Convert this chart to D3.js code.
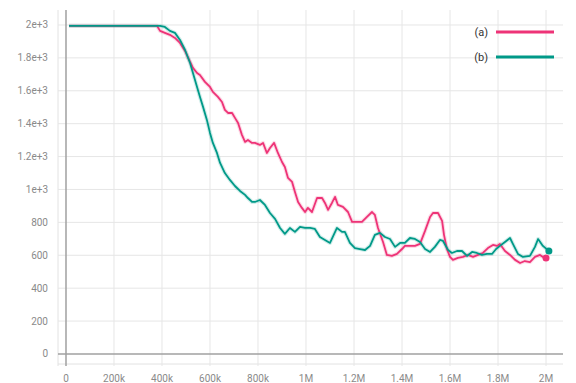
<!DOCTYPE html>
<html>
<head>
<meta charset="utf-8">
<script src="https://cdn.jsdelivr.net/npm/d3@7"></script>
<style>
  html, body { margin: 0; padding: 0; background: #fff; }
  svg { display: block; font-family: Roboto, "Noto Sans", sans-serif; }
</style>
</head>
<body>
<svg id="chart" width="576" height="383"></svg>
<script>
// Training steps (thousands) and metric values for run (a)
const stepsA = [12.5, 379, 392, 412, 433, 454, 475, 496, 517, 529, 546, 558, 579, 600, 612, 633, 650, 662, 675, 692, 704, 717, 733, 746, 758, 775, 787, 808, 821, 837, 850, 867, 883, 900, 912, 925, 942, 954, 967, 983, 996, 1008, 1025, 1046, 1067, 1079, 1092, 1108, 1121, 1133, 1154, 1175, 1192, 1212, 1233, 1254, 1275, 1287, 1300, 1321, 1337, 1358, 1379, 1400, 1412, 1433, 1454, 1475, 1496, 1517, 1529, 1550, 1567, 1575, 1587, 1600, 1612, 1633, 1654, 1675, 1696, 1717, 1737, 1758, 1779, 1796, 1808, 1829, 1850, 1871, 1892, 1912, 1933, 1954, 1975, 1987, 2000];
const valuesA = [1995, 1995, 1964, 1952, 1940, 1921, 1891, 1842, 1775, 1739, 1708, 1696, 1654, 1623, 1593, 1563, 1532, 1484, 1465, 1465, 1435, 1404, 1332, 1289, 1301, 1283, 1283, 1271, 1283, 1222, 1252, 1283, 1222, 1167, 1137, 1070, 1046, 985, 924, 888, 863, 888, 863, 948, 948, 918, 876, 918, 955, 906, 894, 863, 803, 803, 803, 833, 863, 845, 766, 681, 602, 596, 608, 638, 657, 657, 657, 669, 748, 833, 857, 857, 809, 724, 638, 590, 572, 584, 590, 602, 590, 602, 614, 644, 663, 657, 669, 626, 602, 572, 553, 565, 559, 590, 602, 590, 584];

// Training steps (thousands) and metric values for run (b)
const stepsB = [12.5, 392, 412, 433, 454, 475, 496, 517, 529, 546, 558, 571, 587, 600, 612, 629, 642, 662, 683, 704, 725, 746, 758, 775, 787, 808, 829, 850, 871, 892, 912, 933, 954, 975, 996, 1017, 1037, 1058, 1079, 1100, 1129, 1150, 1162, 1183, 1204, 1225, 1246, 1267, 1287, 1308, 1329, 1350, 1371, 1392, 1412, 1433, 1454, 1475, 1496, 1517, 1537, 1558, 1571, 1592, 1608, 1629, 1650, 1671, 1692, 1712, 1733, 1754, 1775, 1792, 1808, 1829, 1850, 1862, 1883, 1904, 1933, 1954, 1967, 1987, 2012];
const valuesB = [1995, 1995, 1988, 1964, 1952, 1909, 1848, 1769, 1708, 1623, 1563, 1502, 1423, 1344, 1283, 1222, 1161, 1100, 1058, 1021, 991, 967, 948, 924, 924, 936, 906, 857, 821, 766, 730, 766, 742, 772, 766, 766, 760, 711, 693, 675, 766, 742, 742, 675, 644, 638, 632, 657, 724, 736, 711, 699, 651, 675, 675, 705, 699, 681, 638, 620, 651, 693, 687, 632, 614, 626, 626, 596, 620, 614, 602, 608, 608, 638, 657, 681, 705, 669, 608, 590, 596, 651, 699, 657, 626];

// Axis ticks
const xTicks = [0, 200, 400, 600, 800, 1000, 1200, 1400, 1600, 1800, 2000];
const xTickLabels = ["0", "200k", "400k", "600k", "800k", "1M", "1.2M", "1.4M", "1.6M", "1.8M", "2M"];
const yTicks = [0, 200, 400, 600, 800, 1000, 1200, 1400, 1600, 1800, 2000];
const yTickLabels = ["0", "200", "400", "600", "800", "1e+3", "1.2e+3", "1.4e+3", "1.6e+3", "1.8e+3", "2e+3"];

const runNames = ["(a)", "(b)"];
const runColors = ["#ee3377", "#009988"];

const svg = d3.select("#chart");
const plotLeft = 58, plotRight = 563, plotTop = 10, plotBottom = 364;

const x = d3.scaleLinear().domain([-33.3, 2070.8]).range([plotLeft, plotRight]);
const y = d3.scaleLinear().domain([-61, 2091]).range([plotBottom, plotTop]);

// Grid
const grid = svg.append("g");
grid.append("line").attr("x1", plotLeft).attr("x2", plotLeft).attr("y1", plotTop).attr("y2", plotBottom + 2)
  .attr("stroke", "#e2e2e2");
grid.append("line").attr("x1", plotLeft).attr("x2", plotRight).attr("y1", plotBottom).attr("y2", plotBottom)
  .attr("stroke", "#e2e2e2");
grid.selectAll("line.hg").data(yTicks.filter(d => d !== 0)).join("line")
  .attr("x1", plotLeft).attr("x2", plotRight)
  .attr("y1", d => y(d)).attr("y2", d => y(d))
  .attr("stroke", "#e6e6e6");
grid.selectAll("line.vg").data(xTicks.filter(d => d !== 0)).join("line")
  .attr("x1", d => x(d)).attr("x2", d => x(d))
  .attr("y1", plotTop).attr("y2", plotBottom + 2)
  .attr("stroke", "#e6e6e6");
// Zero baselines
grid.append("line").attr("x1", plotLeft).attr("x2", plotRight).attr("y1", y(0)).attr("y2", y(0))
  .attr("stroke", "#a0a0a0").attr("stroke-width", 1.5);
grid.append("line").attr("x1", x(0)).attr("x2", x(0)).attr("y1", plotTop).attr("y2", plotBottom + 2)
  .attr("stroke", "#a0a0a0").attr("stroke-width", 1.5);

// Tick labels
svg.append("g").selectAll("text").data(yTicks).join("text")
  .attr("x", 48).attr("y", d => y(d)).attr("dy", "0.35em")
  .attr("text-anchor", "end").attr("font-size", 10).attr("fill", "#8a8a8a")
  .text((d, i) => yTickLabels[i]);
svg.append("g").selectAll("text").data(xTicks).join("text")
  .attr("x", d => x(d)).attr("y", 382)
  .attr("text-anchor", "middle").attr("font-size", 10).attr("fill", "#8a8a8a")
  .text((d, i) => xTickLabels[i]);

// Series
const runs = [
  { name: runNames[0], color: runColors[0], pts: stepsA.map((s, i) => [s, valuesA[i]]) },
  { name: runNames[1], color: runColors[1], pts: stepsB.map((s, i) => [s, valuesB[i]]) }
];
const line = d3.line().x(d => x(d[0])).y(d => y(d[1]));

const plot = svg.append("g");
runs.forEach(r => {
  plot.append("path").attr("d", line(r.pts))
    .attr("fill", "none").attr("stroke", r.color).attr("stroke-opacity", 0.18)
    .attr("stroke-width", 4).attr("stroke-linejoin", "round");
});
runs.forEach(r => {
  plot.append("path").attr("d", line(r.pts))
    .attr("fill", "none").attr("stroke", r.color)
    .attr("stroke-width", 1.8).attr("stroke-linejoin", "round");
  const last = r.pts[r.pts.length - 1];
  plot.append("circle").attr("cx", x(last[0])).attr("cy", y(last[1]))
    .attr("r", 3.5).attr("fill", r.color);
});

// Legend
const legend = svg.append("g");
runs.forEach((r, i) => {
  const ly = 32 + i * 25;
  legend.append("text").attr("x", 488).attr("y", ly).attr("dy", "0.35em")
    .attr("text-anchor", "end").attr("font-size", 11).attr("fill", "#333")
    .text(r.name);
  legend.append("line").attr("x1", 496).attr("x2", 554).attr("y1", ly).attr("y2", ly)
    .attr("stroke", r.color).attr("stroke-width", 3);
});
</script>
</body>
</html>
